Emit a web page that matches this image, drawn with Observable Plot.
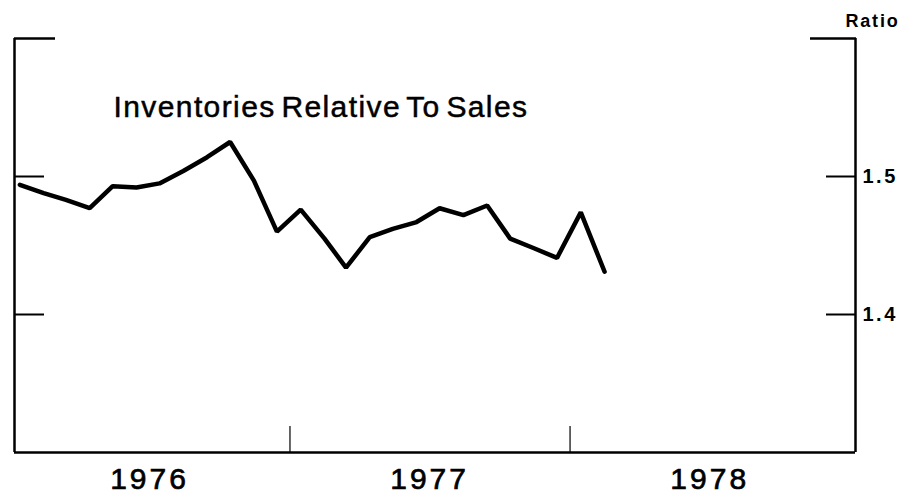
<!DOCTYPE html>
<html><head><meta charset="utf-8">
<script src="https://cdn.jsdelivr.net/npm/d3@7"></script>
<script src="https://cdn.jsdelivr.net/npm/@observablehq/plot@0.6"></script>
<style>
body{margin:0;background:#fff}
svg{font-family:"Liberation Sans",Arial,sans-serif}
g[aria-label="x-axis tick label"] text{letter-spacing:3px;stroke:#000;stroke-width:0.7px}
g[aria-label="y-axis tick label"] text{letter-spacing:2.5px}
</style>
</head><body><div id="chart"></div>
<script>
const months = ["1976-01","1976-02","1976-03","1976-04","1976-05","1976-06","1976-07","1976-08","1976-09","1976-10","1976-11","1976-12",
  "1977-01","1977-02","1977-03","1977-04","1977-05","1977-06","1977-07","1977-08","1977-09","1977-10","1977-11","1977-12",
  "1978-01","1978-02"];
const ratio = [1.494,1.488,1.483,1.477,1.493,1.492,1.495,1.504,1.514,1.525,1.497,1.460,
  1.476,1.455,1.434,1.456,1.462,1.467,1.477,1.472,1.479,1.455,1.448,1.441,
  1.474,1.431];
const yearLabels = ["1976","1977","1978"];
const yearBreaks = ["1977-01-01","1978-01-01"];
const ratioTicks = [1.4, 1.5];
const ratioTop = [1.6];
const title = "Inventories Relative To Sales";
const unitLabel = "Ratio";

const data = months.map((m, i) => ({date: new Date(m + "-15"), value: ratio[i]}));
const xDomain = [new Date("1976-01-08"), new Date("1979-01-08")];
const yDomain = [1.3, 1.6];

const chart = Plot.plot({
  width: 899,
  height: 502,
  marginLeft: 14,
  marginRight: 44,
  marginTop: 38,
  marginBottom: 50,
  x: {type: "utc", domain: xDomain},
  y: {domain: yDomain},
  marks: [
    Plot.ruleY([yDomain[0]], {stroke: "#000", strokeWidth: 2.5}),
    Plot.ruleX(xDomain, {stroke: "#000", strokeWidth: 2.5}),
    Plot.axisY({anchor: "left", ticks: ratioTop, tickSize: -41, tickFormat: () => "", strokeWidth: 2.5, label: null}),
    Plot.axisY({anchor: "right", ticks: ratioTop, tickSize: -46, tickFormat: () => "", strokeWidth: 2.5, label: null}),
    Plot.axisY({anchor: "left", ticks: ratioTicks, tickSize: -30, tickFormat: () => "", strokeWidth: 2, label: null}),
    Plot.axisY({anchor: "right", ticks: ratioTicks, tickSize: -30, tickFormat: () => "", strokeWidth: 2, label: null}),
    Plot.axisY({anchor: "right", ticks: ratioTicks, tickSize: 0, tickPadding: 7, tickFormat: d => d.toFixed(1),
      fontSize: 20, fontWeight: "bold", fill: "#000", label: null}),
    Plot.axisX({anchor: "bottom", ticks: yearBreaks.map(d => new Date(d)), tickSize: -26, tickFormat: () => "", strokeWidth: 1.2, label: null}),
    Plot.axisX({anchor: "bottom", ticks: yearLabels.map(y => new Date(y + "-07-02")), tickSize: 0, tickPadding: 15,
      tickFormat: d => String(d.getUTCFullYear()), fontSize: 30, fill: "#000", label: null}),
    Plot.line(data, {x: "date", y: "value", stroke: "#000", strokeWidth: 4.5, strokeLinejoin: "miter"}),
    Plot.text([title], {frameAnchor: "top-left", dx: 99, dy: 69, fontSize: 30, textAnchor: "start", lineAnchor: "middle", fill: "#000"}),
    Plot.text([unitLabel], {frameAnchor: "top-right", dx: 44, dy: -17, fontSize: 18, fontWeight: "bold", textAnchor: "end", lineAnchor: "middle", fill: "#000"})
  ]
});
const texts = d3.select(chart).selectAll("text");
texts.filter(function () { return this.textContent === title; })
  .style("letter-spacing", "1.4px").style("word-spacing", "-4px")
  .attr("stroke", "#000").attr("stroke-width", 0.5);
texts.filter(function () { return this.textContent === unitLabel; })
  .style("letter-spacing", "1.8px");
document.getElementById("chart").appendChild(chart);
</script>
</body></html>
